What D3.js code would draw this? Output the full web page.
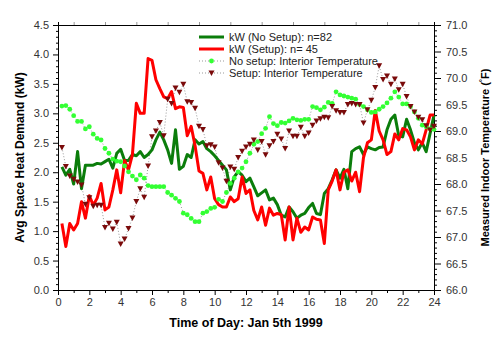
<!DOCTYPE html>
<html>
<head>
<meta charset="utf-8">
<script src="https://cdn.jsdelivr.net/npm/d3@7"></script>
<style>
  body { margin: 0; background: #fff; }
  svg { font-family: "Liberation Sans", Arial, sans-serif; }
</style>
</head>
<body>
<svg id="chart" width="500" height="339"></svg>
<script>
//time of day (hours), one reading every 15 minutes
var hours = [0.25,0.5,0.75,1,1.25,1.5,1.75,2,2.25,2.5,2.75,3,
  3.25,3.5,3.75,4,4.25,4.5,4.75,5,5.25,5.5,5.75,6,
  6.25,6.5,6.75,7,7.25,7.5,7.75,8,8.25,8.5,8.75,9,
  9.25,9.5,9.75,10,10.25,10.5,10.75,11,11.25,11.5,11.75,12,
  12.25,12.5,12.75,13,13.25,13.5,13.75,14,14.25,14.5,14.75,15,
  15.25,15.5,15.75,16,16.25,16.5,16.75,17,17.25,17.5,17.75,18,
  18.25,18.5,18.75,19,19.25,19.5,19.75,20,20.25,20.5,20.75,21,
  21.25,21.5,21.75,22,22.25,22.5,22.75,23,23.25,23.5,23.75,24]

//kW (No Setup): n=82
var kwNoSetup = [2.09,1.95,2.05,1.80,2.35,1.72,2.12,2.12,2.12,2.15,2.14,2.18,
  2.22,2.07,2.32,2.39,2.20,2.20,2.30,2.28,2.35,2.25,2.30,2.38,
  2.55,2.68,2.55,2.38,2.15,2.72,2.05,2.10,2.30,2.25,2.55,2.48,
  2.52,2.40,2.35,2.28,2.20,2.12,2.04,1.70,1.92,2.01,1.95,1.84,
  1.90,1.75,1.60,1.65,1.70,1.53,1.56,1.45,1.27,1.24,1.41,1.33,
  1.22,1.27,1.30,1.40,1.47,1.30,1.28,1.64,1.72,1.87,2.04,1.90,
  2.05,1.72,2.35,2.40,2.43,2.30,2.43,2.40,2.38,2.42,2.43,2.72,
  2.90,2.97,2.62,2.60,2.90,2.72,2.50,2.38,2.50,2.35,2.66,2.97]

//kW (Setup): n=45
var kwSetup = [1.13,0.74,1.13,1.02,1.13,1.50,1.22,1.60,1.44,1.56,1.81,1.36,
  1.41,1.70,2.04,1.65,2.20,2.04,2.30,3.17,3.00,3.00,3.93,3.90,
  3.57,3.42,3.28,3.25,3.37,3.08,3.11,3.10,2.62,2.78,2.45,2.02,
  1.98,1.70,1.92,1.55,1.45,1.41,1.41,1.58,1.50,1.55,1.92,1.64,
  1.70,1.35,1.19,1.41,1.10,1.39,1.27,1.30,1.28,0.85,1.41,0.85,
  1.22,0.98,1.07,1.02,1.24,1.20,1.19,0.79,1.70,1.85,2.04,1.70,
  2.00,2.04,1.85,2.00,1.67,2.25,2.50,2.55,3.05,2.70,2.55,2.30,
  2.35,2.65,2.55,2.74,2.72,2.60,2.38,2.55,2.48,2.72,2.97,2.97]

//No setup: Interior Temperature (F)
var tempNoSetup = [69.47,69.48,69.41,69.29,69.18,69.18,69.04,69.08,68.94,68.86,68.83,68.67,
  68.58,68.47,68.43,68.42,68.34,68.23,68.15,68.08,68.17,68.11,67.97,67.95,
  67.95,67.95,67.95,67.84,67.79,67.73,67.67,67.45,67.42,67.35,67.29,67.29,
  67.45,67.48,67.54,67.56,67.71,67.67,67.84,68.01,68.11,68.23,68.30,68.42,
  68.58,68.75,68.80,68.95,69.05,69.27,69.14,69.10,69.16,69.15,69.19,69.24,
  69.21,69.20,69.22,69.22,69.46,69.44,69.40,69.45,69.54,69.52,69.74,69.68,
  69.66,69.64,69.62,69.60,69.50,69.46,69.40,69.35,69.36,69.41,69.46,69.53,
  69.62,69.74,69.64,69.51,69.51,69.46,69.36,69.24,69.11,69.08,69.04,69.03]

//Setup: Interior Temperature (F)
var tempSetup = [68.69,68.33,68.15,68.09,68.04,67.98,67.62,67.74,67.58,67.60,67.60,67.18,
  67.26,67.15,67.28,66.87,66.96,67.16,67.36,67.67,67.91,67.75,68.34,68.89,
  69.00,69.16,68.91,69.60,69.52,69.81,69.73,69.88,69.55,69.54,69.43,69.09,
  69.03,68.72,68.74,68.70,68.40,68.30,68.05,68.32,68.28,68.50,68.62,68.70,
  68.75,68.83,68.64,68.80,68.55,68.72,68.80,68.94,68.85,68.67,69.00,68.90,
  68.90,69.07,68.90,68.96,69.11,69.19,69.23,69.26,69.25,69.46,69.38,69.35,
  69.35,69.50,69.52,69.50,69.50,69.15,69.40,69.58,69.82,70.23,69.97,70.04,
  69.88,69.98,69.78,69.88,69.65,69.46,69.36,69.26,69.21,69.10,69.02,69.09]

//tick labels
var xTicks = [0,2,4,6,8,10,12,14,16,18,20,22,24]
var kwTicks = [0,0.5,1,1.5,2,2.5,3,3.5,4,4.5]
var tempTicks = [66,66.5,67,67.5,68,68.5,69,69.5,70,70.5,71]

var legendLabels = ["kW (No Setup): n=82", "kW (Setup): n= 45",
  "No setup: Interior Temperature", "Setup: Interior Temperature"]

//plot box
const margin = {top: 25, right: 66, bottom: 49, left: 58}
const width = 500, height = 339
const innerWidth = width - margin.left - margin.right
const innerHeight = height - margin.top - margin.bottom

const GREEN = "#0b7d0b", RED = "#ff0000", LIME = "#33ff33", MAROON = "#7a0a0a"

const svg = d3.select('#chart')
const g = svg.append('g').attr("transform", `translate(${margin.left},${margin.top})`)

const x = d3.scaleLinear().domain([0, 24]).range([0, innerWidth])
const yKw = d3.scaleLinear().domain([0, 4.5]).range([innerHeight, 0])
const yT = d3.scaleLinear().domain([66, 71]).range([innerHeight, 0])

//minor ticks every 0.1 on both y axes, every other hour on x
var kwMinor = d3.range(0, 46).map(d => d / 10).filter(d => Math.round(d * 10) % 5 != 0)
var tMinor = d3.range(660, 711).map(d => d / 10).filter(d => Math.round(d * 10) % 5 != 0)
var xMinor = d3.range(1, 24, 2)

function styleAxis(sel) {
    //drop d3's default sans-serif so the labels use the page font
    sel.attr("font-family", null).attr("font-size", null)
    sel.select(".domain").attr("stroke", "#000")
    sel.selectAll(".tick line").attr("stroke", "#000")
    sel.selectAll("text").attr("fill", "#333").style("font-size", "11px")
}
//minor tick axes carry no labels
function minorAxis(sel) {
    styleAxis(sel)
    sel.selectAll("text").remove()
}

//left axis
g.append("g").call(d3.axisLeft(yKw).tickValues(kwMinor).tickSize(2)).call(minorAxis)
g.append("g").call(d3.axisLeft(yKw).tickValues(kwTicks).tickSize(5).tickPadding(4).tickFormat(d3.format(".1f"))).call(styleAxis)

//right axis
g.append("g").attr("transform", `translate(${innerWidth},0)`)
  .call(d3.axisRight(yT).tickValues(tMinor).tickSize(3)).call(minorAxis)
g.append("g").attr("transform", `translate(${innerWidth},0)`)
  .call(d3.axisRight(yT).tickValues(tempTicks).tickSize(7).tickPadding(5).tickFormat(d3.format(".1f"))).call(styleAxis)

//bottom axis
g.append("g").attr("transform", `translate(0,${innerHeight})`)
  .call(d3.axisBottom(x).tickValues(xMinor).tickSize(3)).call(minorAxis)
g.append("g").attr("transform", `translate(0,${innerHeight})`)
  .call(d3.axisBottom(x).tickValues(xTicks).tickSize(5).tickPadding(3)).call(styleAxis)

//top border with small ticks
g.append("g").call(d3.axisTop(x).tickValues(xMinor).tickSize(3))
  .call(sel => {
      sel.select(".domain").attr("stroke", "#000")
      sel.selectAll(".tick line").attr("stroke", "#999")
      sel.selectAll("text").remove()
  })

//temperature series: dotted grey lines with markers
var lineT = d3.line().x((d, i) => x(hours[i])).y(d => yT(d))
g.append("path").datum(tempNoSetup)
  .attr("fill", "none").attr("stroke", "#999").attr("stroke-width", 1).attr("stroke-dasharray", "1,2")
  .attr("d", lineT)
g.append("path").datum(tempSetup)
  .attr("fill", "none").attr("stroke", "#999").attr("stroke-width", 1).attr("stroke-dasharray", "1,2")
  .attr("d", lineT)

//kW lines
var lineKw = d3.line().x((d, i) => x(hours[i])).y(d => yKw(d))
g.append("path").datum(kwNoSetup)
  .attr("fill", "none").attr("stroke", GREEN).attr("stroke-width", 3).attr("stroke-linejoin", "round")
  .attr("d", lineKw)
g.append("path").datum(kwSetup)
  .attr("fill", "none").attr("stroke", RED).attr("stroke-width", 3).attr("stroke-linejoin", "round")
  .attr("d", lineKw)

//markers on top
const tri = "M-3,-2.5L3,-2.5L0,3Z"
g.append("g").selectAll("circle").data(tempNoSetup).join("circle")
  .attr("cx", (d, i) => x(hours[i])).attr("cy", d => yT(d)).attr("r", 2.4)
  .attr("fill", LIME)
g.append("g").selectAll("path").data(tempSetup).join("path")
  .attr("d", tri)
  .attr("transform", (d, i) => `translate(${x(hours[i])},${yT(d)})`)
  .attr("fill", MAROON)

//legend
const legend = svg.append("g").attr("transform", "translate(199,37)")
legendLabels.forEach(function(label, i){
    var row = legend.append("g").attr("transform", `translate(0,${i * 12})`)
    if (i < 2) {
        row.append("line").attr("x1", 0).attr("x2", 25).attr("y1", 0).attr("y2", 0)
          .attr("stroke", i == 0 ? GREEN : RED).attr("stroke-width", 3)
    } else {
        row.append("line").attr("x1", 0).attr("x2", 25).attr("y1", 0).attr("y2", 0)
          .attr("stroke", "#999").attr("stroke-dasharray", "1,2")
        if (i == 2) row.append("circle").attr("cx", 12.5).attr("cy", 0).attr("r", 2.4).attr("fill", LIME)
        else row.append("path").attr("d", tri).attr("transform", "translate(12.5,0)").attr("fill", MAROON)
    }
    row.append("text").attr("x", 30).attr("y", 4).style("font-size", "11px").attr("fill", "#222").text(label)
})

//axis titles
svg.append("text")
  .attr("transform", `translate(24,${margin.top + innerHeight / 2}) rotate(-90)`)
  .attr("text-anchor", "middle").style("font-size", "12px").style("font-weight", "bold")
  .text("Avg Space Heat Demand (kW)")

svg.append("text")
  .attr("x", margin.left + innerWidth / 2).attr("y", 327)
  .attr("text-anchor", "middle").style("font-size", "12.5px").style("font-weight", "bold")
  .text("Time of Day: Jan 5th 1999")

var rt = svg.append("text")
  .attr("transform", `translate(489,${margin.top + innerHeight / 2}) rotate(-90)`)
  .attr("text-anchor", "middle").style("font-size", "11px").style("font-weight", "bold")
rt.append("tspan").text("Measured Indoor Temperature (")
rt.append("tspan").attr("baseline-shift", "super").style("font-size", "8px").text("°")
rt.append("tspan").text("F)")
</script>
</body>
</html>
